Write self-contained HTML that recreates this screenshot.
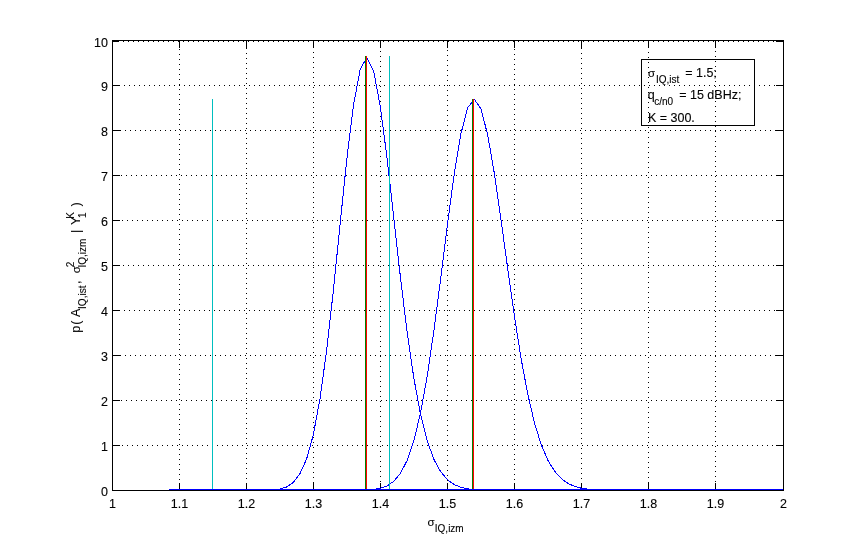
<!DOCTYPE html>
<html><head><meta charset="utf-8"><title>plot</title>
<style>html,body{margin:0;padding:0;background:#fff;}svg{display:block;}text{font-family:"Liberation Sans",sans-serif;fill:#000;stroke:#000;stroke-width:0.12px;}</style>
</head><body>
<svg width="865" height="550" viewBox="0 0 865 550">
<rect x="0" y="0" width="865" height="550" fill="#fff"/>
<g stroke="#000" stroke-width="1" shape-rendering="crispEdges" fill="none">
<g stroke-dasharray="1 4">
<line x1="179.5" y1="49" x2="179.5" y2="490"/>
<line x1="246.5" y1="48" x2="246.5" y2="490"/>
<line x1="313.5" y1="47" x2="313.5" y2="490"/>
<line x1="380.5" y1="46" x2="380.5" y2="490"/>
<line x1="447.5" y1="45" x2="447.5" y2="490"/>
<line x1="514.5" y1="49" x2="514.5" y2="490"/>
<line x1="581.5" y1="48" x2="581.5" y2="490"/>
<line x1="648.5" y1="47" x2="648.5" y2="490"/>
<line x1="715.5" y1="46" x2="715.5" y2="490"/>
<line x1="117" y1="445.5" x2="783" y2="445.5"/>
<line x1="116" y1="400.5" x2="783" y2="400.5"/>
<line x1="115" y1="355.5" x2="783" y2="355.5"/>
<line x1="119" y1="310.5" x2="783" y2="310.5"/>
<line x1="118" y1="265.5" x2="783" y2="265.5"/>
<line x1="117" y1="220.5" x2="783" y2="220.5"/>
<line x1="116" y1="175.5" x2="783" y2="175.5"/>
<line x1="115" y1="130.5" x2="783" y2="130.5"/>
<line x1="119" y1="85.5" x2="783" y2="85.5"/>
<line x1="118" y1="41.5" x2="783" y2="41.5"/>
</g>
<rect x="112.5" y="40.5" width="671" height="450"/>
<line x1="179.5" y1="483" x2="179.5" y2="490"/>
<line x1="179.5" y1="41" x2="179.5" y2="48"/>
<line x1="246.5" y1="483" x2="246.5" y2="490"/>
<line x1="246.5" y1="41" x2="246.5" y2="48"/>
<line x1="313.5" y1="483" x2="313.5" y2="490"/>
<line x1="313.5" y1="41" x2="313.5" y2="48"/>
<line x1="380.5" y1="483" x2="380.5" y2="490"/>
<line x1="380.5" y1="41" x2="380.5" y2="48"/>
<line x1="447.5" y1="483" x2="447.5" y2="490"/>
<line x1="447.5" y1="41" x2="447.5" y2="48"/>
<line x1="514.5" y1="483" x2="514.5" y2="490"/>
<line x1="514.5" y1="41" x2="514.5" y2="48"/>
<line x1="581.5" y1="483" x2="581.5" y2="490"/>
<line x1="581.5" y1="41" x2="581.5" y2="48"/>
<line x1="648.5" y1="483" x2="648.5" y2="490"/>
<line x1="648.5" y1="41" x2="648.5" y2="48"/>
<line x1="715.5" y1="483" x2="715.5" y2="490"/>
<line x1="715.5" y1="41" x2="715.5" y2="48"/>
<line x1="113" y1="445.5" x2="120" y2="445.5"/>
<line x1="776" y1="445.5" x2="783" y2="445.5"/>
<line x1="113" y1="400.5" x2="120" y2="400.5"/>
<line x1="776" y1="400.5" x2="783" y2="400.5"/>
<line x1="113" y1="355.5" x2="120" y2="355.5"/>
<line x1="776" y1="355.5" x2="783" y2="355.5"/>
<line x1="113" y1="310.5" x2="120" y2="310.5"/>
<line x1="776" y1="310.5" x2="783" y2="310.5"/>
<line x1="113" y1="265.5" x2="120" y2="265.5"/>
<line x1="776" y1="265.5" x2="783" y2="265.5"/>
<line x1="113" y1="220.5" x2="120" y2="220.5"/>
<line x1="776" y1="220.5" x2="783" y2="220.5"/>
<line x1="113" y1="175.5" x2="120" y2="175.5"/>
<line x1="776" y1="175.5" x2="783" y2="175.5"/>
<line x1="113" y1="130.5" x2="120" y2="130.5"/>
<line x1="776" y1="130.5" x2="783" y2="130.5"/>
<line x1="113" y1="85.5" x2="120" y2="85.5"/>
<line x1="776" y1="85.5" x2="783" y2="85.5"/>
<line x1="113" y1="41.5" x2="119" y2="41.5"/>
<line x1="776" y1="41.5" x2="783" y2="41.5"/>
</g>
<g fill="none" stroke-width="1" shape-rendering="crispEdges">
<line x1="169" y1="489.5" x2="783" y2="489.5" stroke="#0000ff"/>
<polyline stroke="#0000ff" points="172.29,489.50 179.00,489.50 185.71,489.50 192.42,489.50 199.13,489.50 205.84,489.50 212.55,489.50 219.26,489.50 225.97,489.50 232.68,489.50 239.39,489.50 246.10,489.50 252.81,489.50 259.52,489.50 266.23,489.50 272.94,489.50 279.65,489.07 286.36,487.10 293.07,482.67 299.78,474.04 306.49,459.33 313.20,435.24 319.91,399.32 326.62,350.63 333.33,290.80 340.04,224.64 346.75,159.79 353.46,105.27 360.17,69.36 366.88,57.49 373.59,70.86 380.30,106.41 387.01,157.79 393.72,217.22 400.43,277.23 407.14,332.05 413.85,378.20 420.56,414.39 427.27,441.04 433.98,459.56 440.69,471.76 447.40,479.65 454.11,484.54 460.82,487.34 467.53,488.82 474.24,489.50 480.95,489.50 487.66,489.50 494.37,489.50 501.08,489.50 507.79,489.50 514.50,489.50 521.21,489.50 527.92,489.50 534.63,489.50 541.34,489.50 548.05,489.50 554.76,489.50 561.47,489.50 568.18,489.50 574.89,489.50 581.60,489.50 588.31,489.50 595.02,489.50 601.73,489.50 608.44,489.50 615.15,489.50 621.86,489.50 628.57,489.50 635.28,489.50 641.99,489.50 648.70,489.50 655.41,489.50 662.12,489.50 668.83,489.50 675.54,489.50 682.25,489.50 688.96,489.50 695.67,489.50 702.38,489.50 709.09,489.50 715.80,489.50 722.51,489.50 729.22,489.50 735.93,489.50 742.64,489.50 749.35,489.50 756.06,489.50 762.77,489.50 769.48,489.50 776.19,489.50 782.90,489.50"/>
<polyline stroke="#0000ff" points="172.29,489.50 179.00,489.50 185.71,489.50 192.42,489.50 199.13,489.50 205.84,489.50 212.55,489.50 219.26,489.50 225.97,489.50 232.68,489.50 239.39,489.50 246.10,489.50 252.81,489.50 259.52,489.50 266.23,489.50 272.94,489.50 279.65,489.50 286.36,489.50 293.07,489.50 299.78,489.50 306.49,489.50 313.20,489.50 319.91,489.50 326.62,489.50 333.33,489.50 340.04,489.50 346.75,489.50 353.46,489.50 360.17,489.50 366.88,489.50 373.59,489.48 380.30,488.38 387.01,485.97 393.72,481.31 400.43,473.23 407.14,460.45 413.85,440.83 420.56,412.81 427.27,375.67 433.98,330.04 440.69,278.35 447.40,224.78 454.11,174.79 460.82,134.17 467.53,107.93 474.24,99.24 480.95,108.80 487.66,134.84 494.37,173.55 501.08,220.01 507.79,269.16 514.50,316.59 521.21,359.13 527.92,394.95 534.63,423.47 541.34,445.05 548.05,460.63 554.76,471.39 561.47,478.69 568.18,483.55 574.89,486.53 581.60,488.28 588.31,489.22 595.02,489.50 601.73,489.50 608.44,489.50 615.15,489.50 621.86,489.50 628.57,489.50 635.28,489.50 641.99,489.50 648.70,489.50 655.41,489.50 662.12,489.50 668.83,489.50 675.54,489.50 682.25,489.50 688.96,489.50 695.67,489.50 702.38,489.50 709.09,489.50 715.80,489.50 722.51,489.50 729.22,489.50 735.93,489.50 742.64,489.50 749.35,489.50 756.06,489.50 762.77,489.50 769.48,489.50 776.19,489.50 782.90,489.50"/>
<line x1="365.5" y1="56" x2="365.5" y2="490" stroke="#008000"/>
<line x1="366.5" y1="56" x2="366.5" y2="490" stroke="#ff0000"/>
<line x1="389.5" y1="56" x2="389.5" y2="490" stroke="#00bfbf"/>
<line x1="472.5" y1="99" x2="472.5" y2="490" stroke="#008000"/>
<line x1="473.5" y1="99" x2="473.5" y2="490" stroke="#ff0000"/>
<line x1="212.5" y1="99" x2="212.5" y2="490" stroke="#00bfbf"/>
<line x1="169" y1="489.5" x2="783" y2="489.5" stroke="#0000ff"/>
</g>
<g opacity="0.999">
<g font-size="12.5px">
<text x="112.5" y="508" text-anchor="middle">1</text>
<text x="179.5" y="508" text-anchor="middle">1.1</text>
<text x="246.5" y="508" text-anchor="middle">1.2</text>
<text x="313.5" y="508" text-anchor="middle">1.3</text>
<text x="380.5" y="508" text-anchor="middle">1.4</text>
<text x="447.5" y="508" text-anchor="middle">1.5</text>
<text x="514.5" y="508" text-anchor="middle">1.6</text>
<text x="581.5" y="508" text-anchor="middle">1.7</text>
<text x="648.5" y="508" text-anchor="middle">1.8</text>
<text x="715.5" y="508" text-anchor="middle">1.9</text>
<text x="783.5" y="508" text-anchor="middle">2</text>
<text x="108" y="496" text-anchor="end">0</text>
<text x="108" y="451" text-anchor="end">1</text>
<text x="108" y="406" text-anchor="end">2</text>
<text x="108" y="361" text-anchor="end">3</text>
<text x="108" y="316" text-anchor="end">4</text>
<text x="108" y="271" text-anchor="end">5</text>
<text x="108" y="226" text-anchor="end">6</text>
<text x="108" y="181" text-anchor="end">7</text>
<text x="108" y="136" text-anchor="end">8</text>
<text x="108" y="91" text-anchor="end">9</text>
<text x="108" y="47" text-anchor="end">10</text>
</g>
<text x="427.6" y="526" font-size="11.5px">σ</text>
<text x="434.8" y="532" font-size="10px">IQ,izm</text>
<g transform="translate(80,332) rotate(-90)">
<text x="-0.8" y="0.0" font-size="12.5px">p</text>
<text x="7.2" y="0.0" font-size="12.5px">(</text>
<text x="15.0" y="0.0" font-size="12.5px">A</text>
<text x="23.1" y="6.0" font-size="10px">IQ,ist</text>
<text x="47.9" y="0.0" font-size="12.5px">,</text>
<text x="58.7" y="0.0" font-size="11.5px">σ</text>
<text x="64.5" y="6.0" font-size="10px">IQ,izm</text>
<text x="64.7" y="-6.0" font-size="10px">2</text>
<text x="98.9" y="0.0" font-size="12.5px">|</text>
<text x="107.0" y="0.0" font-size="12.5px">Y</text>
<text x="113.2" y="-6.0" font-size="10px">K</text>
<text x="113.9" y="6.0" font-size="10px">1</text>
<text x="125.6" y="0.0" font-size="12.5px">)</text>
</g>
<rect x="641.5" y="59.5" width="113" height="66" fill="none" stroke="#000" stroke-width="1" shape-rendering="crispEdges"/>
<text x="648.0" y="77.0" font-size="11.5px">σ</text>
<text x="655.9" y="83.0" font-size="10px">IQ,ist</text>
<text x="685.2" y="77.0" font-size="12.5px">= 1.5;</text>
<text x="647.7" y="99.0" font-size="12.5px">q</text>
<text x="654.2" y="105.0" font-size="10px">c/n0</text>
<text x="679.2" y="99.0" font-size="12.5px">= 15 dBHz;</text>
<text x="647.9" y="122.0" font-size="12.5px">K = 300.</text>
</g>
</svg></body></html>
